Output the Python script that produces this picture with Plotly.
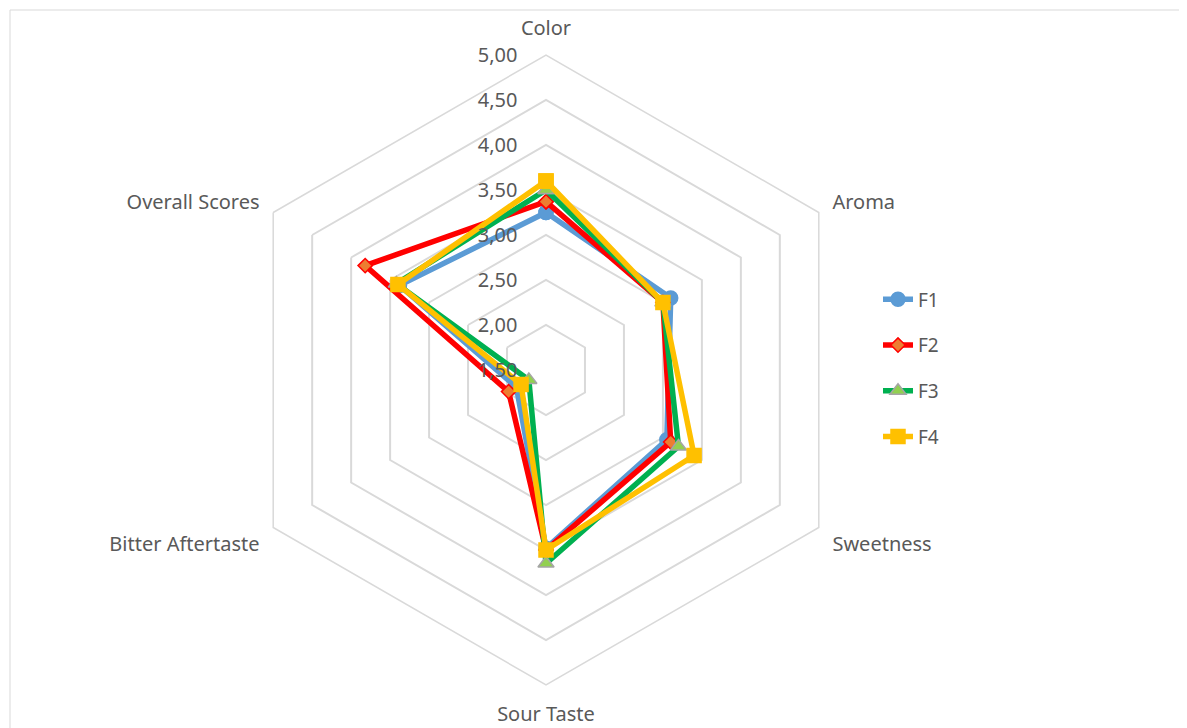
import plotly.graph_objects as go

categories = ["Color", "Aroma", "Sweetness", "Sour Taste", "Bitter Aftertaste", "Overall Scores"]
series_names = ["F1", "F2", "F3", "F4"]
f1 = [3.25, 3.10, 3.05, 3.48, 1.88, 3.38]
f2 = [3.37, 3.00, 3.10, 3.50, 1.98, 3.82]
f3 = [3.50, 3.00, 3.20, 3.65, 1.72, 3.42]
f4 = [3.60, 3.00, 3.40, 3.50, 1.82, 3.40]
values = [f1, f2, f3, f4]

line_colors = ["#5B9BD5", "#FF0000", "#00B050", "#FFC000"]
marker_colors = ["#5B9BD5", "#ED7D31", "#92D050", "#FFC000"]
marker_lines = ["#5B9BD5", "#FF0000", "#A5A5A5", "#FFC000"]
symbols = ["circle", "diamond", "triangle-up", "square"]
sizes = [14, 11, 14, 14]

fig = go.Figure()
for i, name in enumerate(series_names):
    fig.add_trace(go.Scatterpolar(
        r=values[i] + [values[i][0]],
        theta=categories + [categories[0]],
        mode="lines+markers",
        name=name,
        legendgroup=name,
        line=dict(color=line_colors[i], width=5.5),
        marker=dict(symbol=symbols[i], size=sizes[i], color=marker_colors[i],
                    line=dict(color=marker_lines[i], width=1.5)),
    ))

# page has an 8px body margin; figure coordinates are offset by it
W, H = 1179, 720
cx, cy, R = 538, 362, 315
fig.update_layout(
    width=W, height=H,
    margin=dict(l=0, r=0, t=0, b=0),
    paper_bgcolor="white",
    separators=",.",
    font=dict(family="Noto Sans", size=20, color="#595959"),
    polar=dict(
        domain=dict(x=[(cx - R) / W, (cx + R) / W], y=[(H - cy - R) / H, (H - cy + R) / H]),
        gridshape="linear",
        bgcolor="white",
        radialaxis=dict(range=[1.5, 5], dtick=0.5, tick0=1.5, tickformat=".2f",
                        angle=90, tickangle=90, side="counterclockwise",
                        showline=False, ticks="outside", ticklen=21,
                        tickcolor="rgba(0,0,0,0)", gridcolor="#D9D9D9", gridwidth=1.5,
                        tickfont=dict(size=20, color="#595959")),
        angularaxis=dict(rotation=90, direction="clockwise", showgrid=False,
                         showline=True, linecolor="#D9D9D9", linewidth=1.5,
                         ticks="outside", ticklen=11, tickcolor="rgba(0,0,0,0)",
                         tickfont=dict(size=20, color="#595959")),
    ),
    legend=dict(x=870 / W, y=0.5, xanchor="left", yanchor="middle",
                font=dict(size=19, color="#595959"), tracegroupgap=18,
                bgcolor="rgba(0,0,0,0)"),
    shapes=[dict(type="rect", xref="paper", yref="paper",
                 x0=2 / W, x1=1176 / W, y0=-0.02, y1=1 - 2 / H,
                 line=dict(color="#D9D9D9", width=1))],
)

fig.write_html("out.html")
